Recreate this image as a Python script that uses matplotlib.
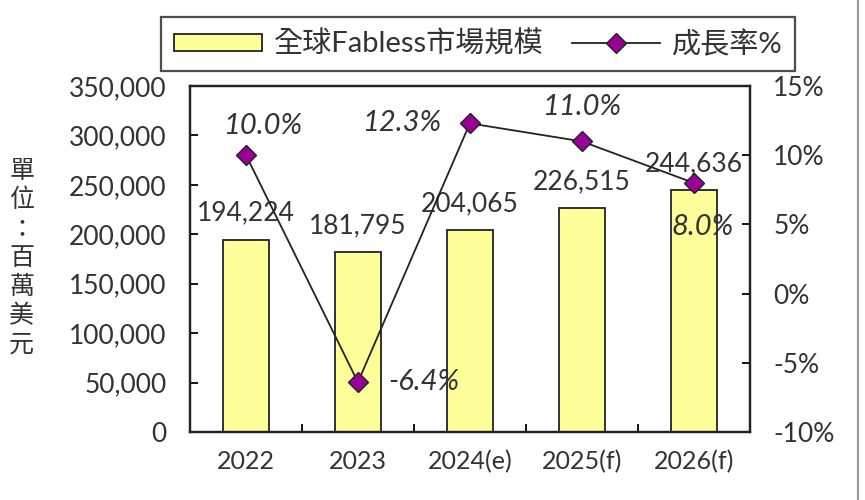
import matplotlib.pyplot as plt
from matplotlib.lines import Line2D
from matplotlib.patches import Patch
import numpy as np

plt.rcParams['font.family'] = ['Lato', 'Noto Sans CJK TC', 'DejaVu Sans']

years = ['2022', '2023', '2024(e)', '2025(f)', '2026(f)']
market = [194224, 181795, 204065, 226515, 244636]
growth = [10.0, -6.4, 12.3, 11.0, 8.0]

txt = '#333333'
fig = plt.figure(figsize=(8.65, 5), dpi=100)
ax = fig.add_axes([0.2197, 0.136, 0.647, 0.692])
x = np.arange(len(years))
ax.bar(x, market, width=0.41, color='#FFFF99', edgecolor='#222222', linewidth=1.3, zorder=2)
ax.set_xlim(-0.5, len(years) - 0.5)
ax.set_ylim(0, 350000)
ax.set_yticks(range(0, 350001, 50000))
ax.set_yticklabels([f'{v:,}' for v in range(0, 350001, 50000)])
ax.set_xticks(x)
ax.set_xticklabels(years)
ax.set_xticks(np.arange(0.5, len(years) - 0.5), minor=True)
ax.tick_params(axis='x', which='major', length=0, pad=13, labelsize=18, labelcolor=txt)
ax.tick_params(axis='x', which='minor', direction='in', length=6, width=1.3)
ax.tick_params(axis='y', direction='in', length=6, width=1.3, labelsize=19, labelcolor=txt, pad=17)
for s in ax.spines.values():
    s.set_linewidth(1.6)
    s.set_color('#222222')

for i, v in enumerate(market):
    ax.text(x[i], v + 27000, f'{v:,}', ha='center', va='center', fontsize=19, color=txt, zorder=5)

ax2 = ax.twinx()
ax2.plot(x, growth, color='#222222', linewidth=1.3, marker='D', markersize=10,
         markerfacecolor='#990099', markeredgecolor='#222222', zorder=4)
ax2.set_ylim(-10, 15)
ax2.set_yticks(range(-10, 16, 5))
ax2.set_yticklabels([f'{v}%' for v in range(-10, 16, 5)])
ax2.tick_params(axis='y', direction='in', length=6, width=1.3, labelsize=19, labelcolor=txt, pad=17)
for s in ax2.spines.values():
    s.set_linewidth(1.6)
    s.set_color('#222222')

# label offsets (dx in categories, dy in %)
offsets = [(0.15, 2.1, 'center'), (0.27, 0.0, 'left'), (-0.26, 0.0, 'right'),
           (0.0, 2.45, 'center'), (0.08, -3.2, 'center')]
for i, g in enumerate(growth):
    dx, dy, ha = offsets[i]
    ax2.text(x[i] + dx, g + dy, f'{g:.1f}%', ha=ha, va='center', fontsize=21,
             style='italic', color=txt, zorder=6, family=['Lato', 'DejaVu Sans'])

fig.text(0.025, 0.484, '\n'.join('單位：百萬美元'), ha='center', va='center',
         fontsize=18, color=txt, linespacing=1.15, family=['Noto Sans CJK TC'])

handles = [Patch(facecolor='#FFFF99', edgecolor='#222222', linewidth=1.3),
           Line2D([0], [0], color='#222222', linewidth=1.3, marker='D', markersize=10,
                  markerfacecolor='#990099', markeredgecolor='#222222')]
leg = fig.legend(handles, ['全球Fabless市場規模', '成長率%'], loc='upper center',
                 bbox_to_anchor=(0.553, 0.995), ncol=2, fontsize=21, frameon=True,
                 fancybox=False, edgecolor='#222222', handlelength=3.0, handleheight=0.5,
                 columnspacing=1.0, handletextpad=0.4, borderpad=0.45, labelcolor=txt)
leg.get_frame().set_linewidth(1.6)

fig.add_artist(Line2D([0.992, 0.992], [0, 1], transform=fig.transFigure, color='#999999', linewidth=1.5))

fig.savefig('out.png', dpi=100)
